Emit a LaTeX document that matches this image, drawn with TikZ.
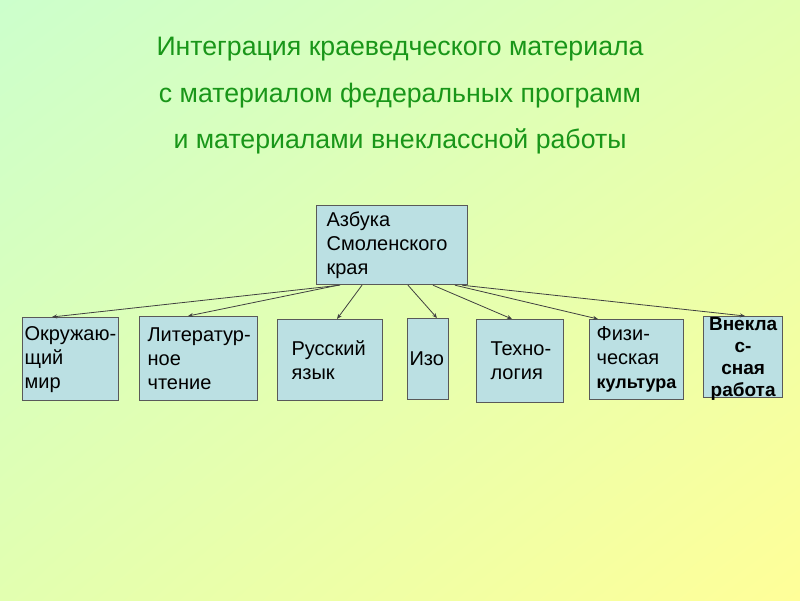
\documentclass[tikz,border=0pt]{standalone}
\usepackage{fontspec}
\setmainfont{Liberation Sans}
\usepackage{tikz}
\usetikzlibrary{arrows.meta,calc,shadings}

\definecolor{bgGreen}{HTML}{CCFFCC}
\definecolor{bgYellow}{HTML}{FFFF99}
\definecolor{bgMid}{HTML}{E2FFB0}
\definecolor{boxFill}{HTML}{BBE0E3}
\definecolor{titleGreen}{RGB}{25,150,25}

\tikzset{
  box/.style={draw=black!65, line width=1.2pt, fill=boxFill, anchor=north west,
              align=left, inner ysep=0pt, font=\fontsize{20}{24}\selectfont},
  heading/.style={font=\fontsize{26.7}{46.5}\selectfont, text=titleGreen,
                  align=center, anchor=north, inner sep=0pt},
  arr/.style={->, black!75, line width=0.8pt},
}

\begin{document}
\begin{tikzpicture}[x=1pt,y=-1pt,>={Stealth[length=5pt,width=4pt]}]

  % ── background ──────────────────────────────────────────────────────
  \useasboundingbox (0,0) rectangle (800,600);
  \shade[upper left=bgGreen, upper right=bgMid, lower left=bgMid, lower right=bgYellow]
        (0,0) rectangle (800,600);

  % ── title ───────────────────────────────────────────────────────────
  \node[heading] (title) at (400,37)
       {Интеграция краеведческого материала\\с материалом федеральных программ\\и материалами внеклассной работы};

  % ── top box ─────────────────────────────────────────────────────────
  \node[box, minimum width=151pt, minimum height=79pt, text width=131pt, inner xsep=10pt]
       (azb) at (316,205) {Азбука\\Смоленского\\края};

  % ── subjects ────────────────────────────────────────────────────────
  \node[box, minimum width=96pt, minimum height=83pt, text width=92pt, inner xsep=2pt]
       (okr) at (22,317) {\mbox{Окружаю-}\\щий\\мир};
  \node[box, minimum width=118pt, minimum height=84pt, text width=102pt, inner xsep=8pt]
       (lit) at (139,316) {\mbox{Литератур-}\\ное\\чтение};
  \node[box, minimum width=105pt, minimum height=81pt, text width=77pt, inner xsep=14pt]
       (rus) at (277,319) {Русский\\язык};
  \node[box, minimum width=41pt, minimum height=81pt, text width=37pt, inner xsep=2pt]
       (izo) at (407,318) {Изо};
  \node[box, minimum width=87pt, minimum height=83pt, text width=59pt, inner xsep=14pt]
       (tex) at (476,319) {\raisebox{-5pt}{\mbox{Техно-}}\\\raisebox{-5pt}{логия}};
  \node[box, minimum width=94pt, minimum height=80pt, text width=80pt, inner xsep=7pt]
       (fiz) at (589,319) {\mbox{Физи-}\\ческая\\{\bfseries\fontsize{18}{24}\selectfont культура}};
  \node[box, minimum width=79pt, minimum height=81pt] (vne) at (703,316) {};
  \node[font=\bfseries\fontsize{19}{22}\selectfont, align=center, inner sep=0pt]
       (vnetxt) at ($(vne.center)+(0,2)$) {Внекла\\с-\\сная\\работа};

  % ── arrows ──────────────────────────────────────────────────────────
  \foreach \dst/\a/\b in {okr/24/30, lit/22/49, rus/46/60, izo/92/30,
                          tex/117/36, fiz/139/9, vne/146/42}
    \draw[arr] ($(azb.south west)+(\a,0)$) -- ($(\dst.north west)+(\b,0)$);

\end{tikzpicture}
\end{document}
